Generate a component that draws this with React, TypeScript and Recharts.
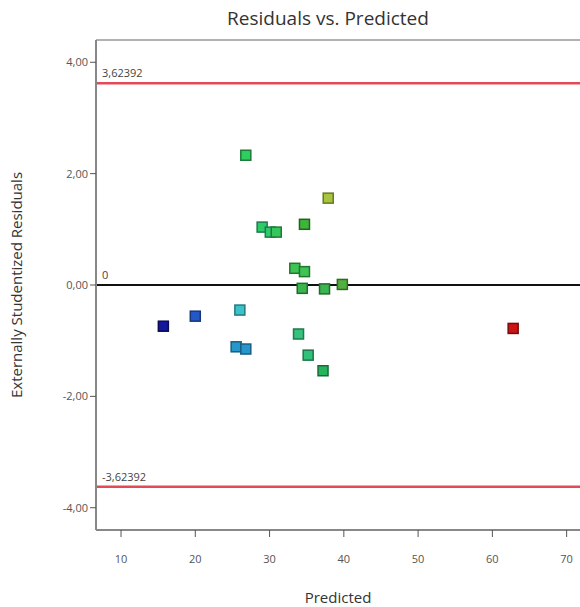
import {
  ScatterChart,
  Scatter,
  XAxis,
  YAxis,
  ReferenceLine,
} from "recharts";

// predicted value, externally studentized residual, square fill, square border
const predicted = [
  26.8, 37.9, 29.0, 30.1, 30.9, 34.7, 33.4, 34.7, 34.4, 37.4,
  39.8, 15.7, 20.0, 26.0, 25.5, 26.8, 33.9, 35.2, 37.2, 62.8,
];
const residuals = [
  2.33, 1.56, 1.04, 0.95, 0.95, 1.09, 0.3, 0.24, -0.06, -0.07,
  0.01, -0.74, -0.56, -0.45, -1.11, -1.15, -0.88, -1.26, -1.54, -0.78,
];
const fills = [
  "#2ecf5c", "#a6c43c", "#2fca6a", "#2fca6a", "#36c75c", "#3fb43a", "#3dc455",
  "#3dc455", "#3ab64e", "#3ab64e", "#52b040", "#15179a", "#2457c8", "#3ac2c8",
  "#2597cc", "#2597cc", "#34c27c", "#30c07a", "#25b45c", "#cc1414",
];
const borders = [
  "#1d7a3a", "#66782a", "#1d7a4a", "#1d7a4a", "#1f7a3a", "#24601f", "#25752f",
  "#25752f", "#236b2e", "#236b2e", "#2f6a25", "#0a0a55", "#163878", "#237a80",
  "#175f82", "#175f82", "#1f7a4c", "#1d7549", "#166c37", "#7a0a0a",
];

const yTicks = [-4, -2, 0, 2, 4];
const xTicks = [10, 20, 30, 40, 50, 60, 70];
const limit = 3.62392;

const points = predicted.map((x, i) => ({
  x,
  y: residuals[i],
  fill: fills[i],
  stroke: borders[i],
}));

const font = "'Open Sans', 'Noto Sans', sans-serif";
const fmt = (v: number) => v.toFixed(2).replace(".", ",");

const Square = (props: any) => {
  const { cx, cy, payload } = props;
  if (cx == null || cy == null) return null;
  return (
    <rect
      x={cx - 5}
      y={cy - 5}
      width={10}
      height={10}
      fill={payload.fill}
      stroke={payload.stroke}
      strokeWidth={1.5}
    />
  );
};

export default function App() {
  return (
    <div
      style={{
        position: "absolute",
        left: 0,
        top: 0,
        width: 580,
        height: 607,
        overflow: "hidden",
        background: "#fff",
        fontFamily: font,
      }}
    >
      <div
        style={{
          position: "absolute",
          left: 0,
          top: 5,
          width: 656,
          textAlign: "center",
          fontSize: 19,
          color: "#333",
        }}
      >
        Residuals vs. Predicted
      </div>
      <ScatterChart
        width={580}
        height={607}
        margin={{ top: 40, right: 0, bottom: 37, left: 40 }}
      >
        <XAxis
          type="number"
          dataKey="x"
          domain={[6.63, 71.8]}
          ticks={xTicks}
          allowDataOverflow
          height={40}
          tickSize={7}
          tickMargin={18}
          axisLine={{ stroke: "#888", strokeWidth: 2 }}
          tickLine={{ stroke: "#555" }}
          tick={{ fontSize: 11, fill: "#555", fontFamily: font }}
          label={{
            value: "Predicted",
            position: "bottom",
            offset: 22,
            fontSize: 15,
            fill: "#333",
            fontFamily: font,
          }}
        />
        <YAxis
          type="number"
          dataKey="y"
          domain={[-4.4, 4.4]}
          ticks={yTicks}
          allowDataOverflow
          width={56}
          tickSize={6}
          tickFormatter={fmt}
          axisLine={{ stroke: "#888", strokeWidth: 2 }}
          tickLine={{ stroke: "#555" }}
          tick={{ fontSize: 11, fill: "#555", fontFamily: font }}
          label={{
            value: "Externally Studentized Residuals",
            angle: -90,
            position: "left",
            offset: 23,
            fontSize: 15,
            fill: "#333",
            fontFamily: font,
            style: { textAnchor: "middle" },
          }}
        />
        <ReferenceLine y={4.4} stroke="#999" strokeWidth={1.5} />
        <ReferenceLine
          y={limit}
          stroke="#e34a57"
          strokeWidth={2.5}
          label={{
            value: "3,62392",
            position: "insideBottomLeft",
            offset: 6,
            fontSize: 11,
            fill: "#444",
            fontFamily: font,
          }}
        />
        <ReferenceLine
          y={0}
          stroke="#111"
          strokeWidth={2}
          label={{
            value: "0",
            position: "insideBottomLeft",
            offset: 6,
            fontSize: 11,
            fill: "#444",
            fontFamily: font,
          }}
        />
        <ReferenceLine
          y={-limit}
          stroke="#e34a57"
          strokeWidth={2.5}
          label={{
            value: "-3,62392",
            position: "insideBottomLeft",
            offset: 6,
            fontSize: 11,
            fill: "#444",
            fontFamily: font,
          }}
        />
        <Scatter data={points} shape={Square} isAnimationActive={false} />
      </ScatterChart>
    </div>
  );
}
